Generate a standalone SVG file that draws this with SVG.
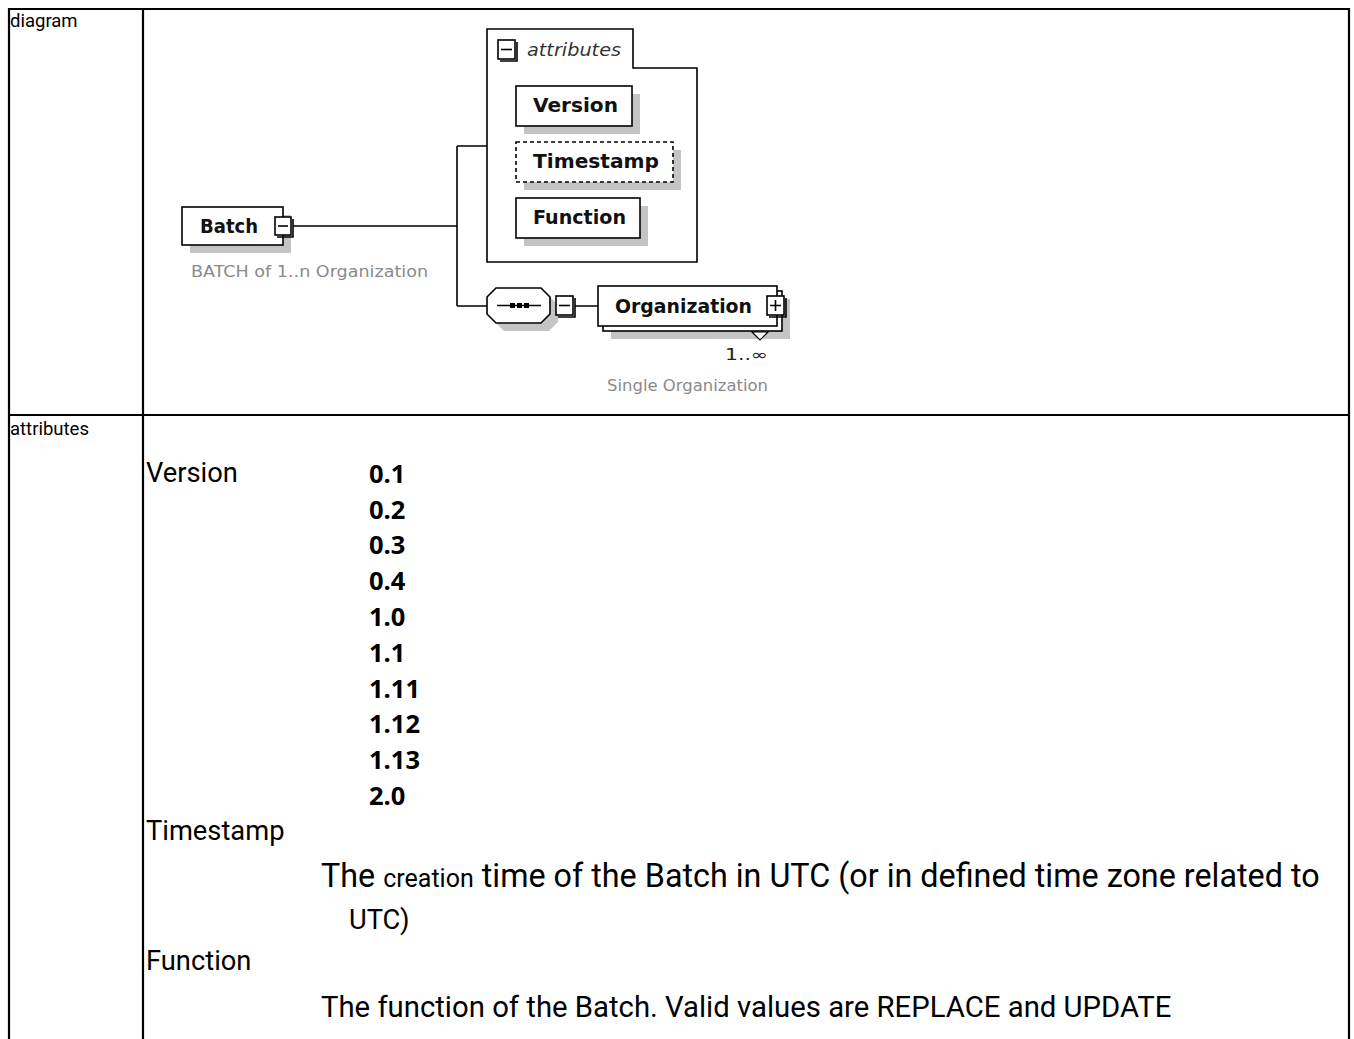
<svg xmlns="http://www.w3.org/2000/svg" width="1354" height="1039" viewBox="0 0 1354 1039">
<style>
.grid{stroke:#000;stroke-width:2.2;fill:none}
.box{fill:#fff;stroke:#000;stroke-width:1.6}
.dash{fill:#fff;stroke:#000;stroke-width:1.6;stroke-dasharray:4 3}
.sh{fill:#c4c4c4}
.ln{stroke:#000;stroke-width:1.6;fill:none}
.btn{fill:#fff;stroke:#000;stroke-width:1.6}
.lbl{font-family:"DejaVu Sans",sans-serif;font-weight:bold;font-size:19px;fill:#111}
.gray{font-family:"DejaVu Sans",sans-serif;font-size:15px;fill:#8a8a8a}
.cell{font-family:Roboto,sans-serif;font-size:18.5px;fill:#000}
.big{font-family:Roboto,sans-serif;font-size:27.3px;fill:#000}
.desc1{font-family:Roboto,sans-serif;font-size:32.3px;fill:#000}
.small{font-size:25px}
.desc2{font-family:Roboto,sans-serif;font-size:29.3px;fill:#000}
.num{font-family:"Open Sans",sans-serif;font-weight:bold;font-size:25.5px;fill:#000}
</style>
<rect width="1354" height="1039" fill="#fff"/>
<g id="table">
<path class="grid" d="M9 1039 V9 H1349 V1039 M143 9 V1039 M9 415 H1349"/>
<text class="cell" x="10" y="27">diagram</text>
<text class="cell" x="10" y="435">attributes</text>
</g>
<g id="connectors">
<path class="ln" d="M293 226 H457 M457 146 V306 M457 146 H487 M457 306 H487 M575 306 H598"/>
</g>
<g id="batch">
<rect class="sh" x="190" y="215" width="101" height="38"/>
<rect class="box" x="182" y="207" width="101" height="38"/>
<text class="lbl" x="200" y="233" textLength="58" lengthAdjust="spacingAndGlyphs">Batch</text>
<rect class="btn" x="275" y="217" width="16" height="18"/>
<path class="ln" d="M277 237 H293 V219" stroke-width="2.5"/>
<path class="ln" d="M278 226 H288"/>
<text class="gray" x="191" y="277" textLength="237" lengthAdjust="spacingAndGlyphs">BATCH of 1..n Organization</text>
</g>
<g id="attributes">
<path class="box" d="M487 29 H633 V68 H697 V262 H487 Z"/>
<rect class="btn" x="498" y="40" width="17" height="19"/>
<path class="ln" d="M500 61 H517 V42" stroke-width="2.5"/>
<path class="ln" d="M501 49.5 H512"/>
<text x="527" y="56" font-family="DejaVu Sans,sans-serif" font-style="italic" font-size="18" fill="#333" textLength="94" lengthAdjust="spacingAndGlyphs">attributes</text>
</g>
<g id="version">
<rect class="sh" x="524" y="94" width="116" height="40"/>
<rect class="box" x="516" y="86" width="116" height="40"/>
<text class="lbl" x="533" y="112" textLength="85" lengthAdjust="spacingAndGlyphs">Version</text>
</g>
<g id="timestamp">
<rect class="sh" x="524" y="150" width="157" height="40"/>
<rect class="dash" x="516" y="142" width="157" height="40"/>
<text class="lbl" x="533" y="168" textLength="126" lengthAdjust="spacingAndGlyphs">Timestamp</text>
</g>
<g id="function">
<rect class="sh" x="524" y="206" width="124" height="40"/>
<rect class="box" x="516" y="198" width="124" height="40"/>
<text class="lbl" x="533" y="224" textLength="93" lengthAdjust="spacingAndGlyphs">Function</text>
</g>
<g id="sequence">
<polygon class="sh" points="504,296 549,296 558,305 558,322 549,331 504,331 495,322 495,305"/>
<polygon class="box" points="496,288 541,288 550,297 550,314 541,323 496,323 487,314 487,297"/>
<path class="ln" d="M497 305.5 H541"/>
<rect x="510" y="303" width="5" height="5" fill="#000"/>
<rect x="517" y="303" width="5" height="5" fill="#000"/>
<rect x="524" y="303" width="5" height="5" fill="#000"/>
<rect class="btn" x="556" y="296" width="17" height="19"/>
<path class="ln" d="M558 317 H575 V298" stroke-width="2.5"/>
<path class="ln" d="M559 305.5 H570"/>
</g>
<g id="organization">
<rect class="sh" x="611" y="299" width="179" height="40"/>
<rect class="box" x="603" y="291" width="179" height="40"/>
<rect class="box" x="598" y="286" width="179" height="40"/>
<text class="lbl" x="615" y="313" textLength="137" lengthAdjust="spacingAndGlyphs">Organization</text>
<rect class="btn" x="767" y="296" width="17" height="19"/>
<path class="ln" d="M769 317 H786 V298" stroke-width="2.5"/>
<path class="ln" d="M770 305.5 H781 M775.5 300 V311"/>
<polygon points="752,332 768,332 760,340" fill="#fff" stroke="#000" stroke-width="1.2"/>
<text x="725" y="360" font-family="DejaVu Sans,sans-serif" font-size="15" fill="#222" textLength="43" lengthAdjust="spacingAndGlyphs">1..∞</text>
<text class="gray" x="607" y="391" textLength="161" lengthAdjust="spacingAndGlyphs">Single Organization</text>
</g>
<g id="details">
<text class="big" x="146" y="482">Version</text>
<text class="num" x="369" y="483">0.1</text>
<text class="num" x="369" y="519">0.2</text>
<text class="num" x="369" y="554">0.3</text>
<text class="num" x="369" y="590">0.4</text>
<text class="num" x="369" y="626">1.0</text>
<text class="num" x="369" y="662">1.1</text>
<text class="num" x="369" y="698">1.11</text>
<text class="num" x="369" y="733">1.12</text>
<text class="num" x="369" y="769">1.13</text>
<text class="num" x="369" y="805">2.0</text>
<text class="big" x="146" y="840">Timestamp</text>
<text class="desc1" x="321" y="887">The <tspan class="small">creation</tspan> time of the Batch in UTC (or in defined time zone related to</text>
<text class="big" x="349" y="929">UTC)</text>
<text class="big" x="146" y="970">Function</text>
<text class="desc2" x="321" y="1017">The function of the Batch. Valid values are REPLACE and UPDATE</text>
</g>
</svg>
